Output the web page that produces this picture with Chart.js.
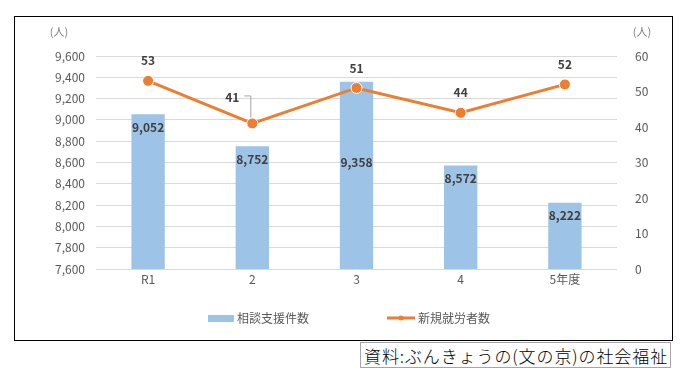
<!DOCTYPE html>
<html lang="ja">
<head>
	<meta charset="UTF-8">
	<title>相談支援件数と新規就労者数</title>
	<script src="https://cdn.jsdelivr.net/npm/chart.js@4"></script>
	<style>
		body { margin: 0; background: #fff; font-family: "Noto Sans CJK JP", sans-serif; }
		#frame { position: absolute; left: 14px; top: 16px; width: 657px; height: 323px; border: 1px solid #000; }
		#source { position: absolute; left: 360px; top: 342px; width: 311px; height: 26px; border: 1px solid #a6a6a6;
			font-size: 17px; line-height: 26px; color: #000; padding-left: 3px; box-sizing: border-box; white-space: nowrap;
			letter-spacing: 0.9px; font-weight: 300; }
	</style>
</head>
<body>
	<div id="frame"><canvas id="myChart" width="657" height="323"></canvas></div>
	<div id="source">資料:ぶんきょうの(文の京)の社会福祉</div>
<script>
	const years = ['R1', '2', '3', '4', '5年度'];
	const consults = [9052, 8752, 9358, 8572, 8222];
	const hires = [53, 41, 51, 44, 52];
	const unitLabel = '(人)';

	const font = '"Noto Sans CJK JP", sans-serif';
	const grey = '#595959';

	// data labels, units and legend drawn by hand like the Excel original
	const decor = {
		id: 'decor',
		afterDatasetsDraw(chart) {
			const ctx = chart.ctx;
			const area = chart.chartArea;
			ctx.save();
			ctx.font = 'bold 12px ' + font;
			ctx.fillStyle = '#404040';
			ctx.textAlign = 'center';
			ctx.textBaseline = 'middle';
			chart.getDatasetMeta(0).data.forEach((bar, i) => {
				// the 3rd label was pushed down below the line in the original
				const dy = i === 2 ? 81 : 13;
				ctx.fillText(consults[i].toLocaleString('en-US'), bar.x, bar.y + dy);
			});
			chart.getDatasetMeta(1).data.forEach((pt, i) => {
				if (i === 1) {
					// this one was dragged aside in the original, with a leader line
					ctx.strokeStyle = '#a6a6a6';
					ctx.lineWidth = 1;
					ctx.beginPath();
					ctx.moveTo(pt.x - 8, pt.y - 27.5);
					ctx.lineTo(pt.x - 1.5, pt.y - 27.5);
					ctx.lineTo(pt.x - 1.5, pt.y - 6);
					ctx.stroke();
					ctx.fillText(hires[i], pt.x - 20, pt.y - 26);
				} else {
					ctx.fillText(hires[i], pt.x, pt.y - 20);
				}
			});
			ctx.font = '11px ' + font;
			ctx.fillStyle = '#7f7f7f';
			ctx.fillText(unitLabel, 44, area.top - 24);
			ctx.fillText(unitLabel, area.right + 25, area.top - 24);

			// legend
			const ly = area.bottom + 49;
			ctx.font = '12px ' + font;
			ctx.textAlign = 'left';
			ctx.fillStyle = '#9dc3e6';
			ctx.fillRect(193, ly - 3, 26, 7);
			ctx.fillStyle = grey;
			ctx.fillText('相談支援件数', 222, ly);
			ctx.strokeStyle = '#ed7d31';
			ctx.lineWidth = 3;
			ctx.beginPath();
			ctx.moveTo(372, ly);
			ctx.lineTo(400, ly);
			ctx.stroke();
			ctx.fillStyle = '#ed7d31';
			ctx.beginPath();
			ctx.arc(386, ly, 2.5, 0, Math.PI * 2);
			ctx.fill();
			ctx.fillStyle = grey;
			ctx.fillText('新規就労者数', 403, ly);
			ctx.restore();
		}
	};

	const ctx = document.getElementById('myChart').getContext('2d');
	const myChart = new Chart(ctx, {
		data: {
			labels: years,
			datasets: [
				{
					type: 'bar',
					label: '相談支援件数',
					data: consults,
					backgroundColor: '#9dc3e6',
					yAxisID: 'y',
					categoryPercentage: 1,
					barPercentage: 0.32,
					order: 2
				},
				{
					type: 'line',
					label: '新規就労者数',
					data: hires,
					borderColor: '#ed7d31',
					backgroundColor: '#ed7d31',
					borderWidth: 3,
					pointRadius: 5.5,
					pointHoverRadius: 5.5,
					pointBorderColor: '#ffffff',
					pointBorderWidth: 1,
					yAxisID: 'y1',
					order: 1
				}
			]
		},
		options: {
			responsive: false,
			animation: false,
			layout: { padding: { top: 39, left: 15, right: 15, bottom: 55 } },
			plugins: { legend: { display: false }, tooltip: { enabled: false } },
			scales: {
				x: {
					grid: { display: false, drawTicks: false },
					border: { display: false },
					ticks: { color: grey, font: { family: font, size: 12 }, padding: 3 },
					afterFit: s => { s.height = 16; }
				},
				y: {
					position: 'left',
					min: 7600,
					max: 9600,
					afterFit: s => { s.width = 66; },
					grid: { color: '#d9d9d9', drawTicks: false },
					border: { display: false },
					ticks: {
						stepSize: 200,
						padding: 11,
						color: grey,
						font: { family: font, size: 12 },
						callback: v => v.toLocaleString('en-US')
					}
				},
				y1: {
					position: 'right',
					min: 0,
					max: 60,
					afterFit: s => { s.width = 40; },
					grid: { display: false },
					border: { display: false },
					ticks: { stepSize: 10, padding: 10, color: grey, font: { family: font, size: 12 } }
				}
			}
		},
		plugins: [decor]
	});
</script>
</body>
</html>
